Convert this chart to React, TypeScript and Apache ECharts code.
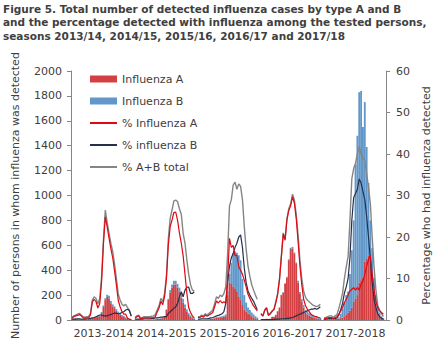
import React, { useEffect, useRef } from "react";
import * as echarts from "echarts";

const seasons = ["2013-2014", "2014-2015", "2015-2016", "2016-2017", "2017-2018"];

// Weekly number of persons with influenza A (week 40 -> week 20), one array per season
const casesA = [
  [5,8,10,10,8,6,5,5,6,8,10,15,20,22,25,30,55,105,160,185,175,135,110,95,75,55,40,30,25,15,10,6,3],
  [3,4,5,4,3,3,3,4,4,5,5,6,8,10,12,15,25,80,160,220,260,285,285,260,230,180,140,100,65,40,25,15,8],
  [3,3,4,4,5,5,6,8,10,15,20,20,22,22,25,30,200,300,295,270,255,225,190,160,120,85,65,50,40,30,22,15,10],
  [5,5,8,10,8,10,25,25,40,70,100,200,220,290,340,480,570,575,530,450,300,210,150,100,60,45,35,28,22,18,14,10,8],
  [5,5,6,8,8,6,8,10,12,15,20,30,45,60,75,100,150,170,200,300,320,340,470,490,520,480,370,200,100,50,25,15,8],
];

// Weekly number of persons with influenza B
const casesB = [
  [1,1,2,2,1,1,1,1,1,2,2,3,4,5,5,6,10,12,15,18,20,18,15,14,12,12,10,10,8,6,5,3,2],
  [0,0,1,0,0,1,1,1,1,1,1,1,2,2,3,3,4,5,10,20,25,30,30,30,30,35,30,25,20,15,12,8,5],
  [0,0,1,1,1,1,1,2,2,3,4,5,6,8,10,15,30,70,165,265,295,315,330,320,210,115,75,50,40,30,23,15,10],
  [0,0,0,0,0,0,1,1,1,2,2,3,4,5,8,8,10,12,12,12,15,15,18,20,20,20,20,20,18,15,15,12,10],
  [1,1,2,2,2,2,2,2,8,35,70,110,155,170,295,460,650,1080,1280,1530,1520,1210,1280,900,580,320,210,140,100,60,35,15,7],
];

// Percentage positive for influenza A
const pctA = [
  [0.4,0.8,1.0,1.1,1.3,1.0,0.6,0.4,0.5,0.5,1.2,4.3,5.0,4.4,2.9,3.9,9.2,18.3,24.8,22.5,19.8,17.2,15.0,11.8,8.4,4.7,3.2,2.0,1.4,1.4,0.4,0.2,0.1],
  [0.4,0.8,1.0,0.3,0.4,0.5,0.5,0.5,0.5,0.5,0.6,0.8,1.9,2.9,4.5,3.7,5.7,10.0,18.0,22.5,24.1,25.9,26.0,24.0,21.0,18.5,15.5,11.0,6.5,3.0,1.8,1.0,0.5],
  [0.6,0.6,0.9,0.7,1.2,0.9,1.2,1.5,1.8,3.2,4.6,4.1,4.7,4.1,4.4,4.0,10.0,19.7,17.5,18.0,15.5,15.6,12.8,12.0,11.0,9.6,8.0,6.2,5.2,4.2,3.4,2.8,2.2],
  [1.5,0.9,2.3,2.9,1.1,1.5,2.1,2.5,4.2,6.2,9.8,15.2,20.7,19.2,24.1,26.4,27.5,29.7,28.2,24.5,19.0,13.0,8.5,5.0,3.5,2.6,2.0,1.4,1.1,0.9,0.8,0.6,0.5],
  [0.3,0.4,0.5,0.6,0.6,0.3,0.6,0.8,1.4,2.2,3.0,4.2,5.0,6.0,7.0,7.4,7.8,7.2,7.8,7.2,8.6,9.4,11.0,13.0,14.5,15.5,11.0,7.5,4.5,3.0,2.2,1.8,1.4],
];

// Percentage positive for influenza B
const pctB = [
  [0.2,0.2,0.2,0.3,0.3,0.2,0.2,0.2,0.3,0.3,0.4,0.5,0.6,0.8,1.0,1.2,1.2,1.0,1.0,1.0,1.2,1.3,1.5,1.7,1.6,1.5,1.6,1.8,2.0,2.4,2.6,2.2,0.9],
  [0.2,0.2,0.2,0.2,0.2,0.3,0.3,0.3,0.3,0.4,0.4,0.5,0.5,0.6,0.7,0.7,0.8,0.8,1.6,2.0,2.4,2.8,3.2,4.0,5.6,6.8,5.6,7.2,7.9,7.9,6.4,6.4,6.8],
  [0.2,0.2,0.3,0.3,0.3,0.3,0.4,0.5,0.6,0.8,1.0,1.1,1.3,1.5,2.0,4.0,9.0,13.0,15.0,16.0,17.5,18.5,20.0,20.5,17.5,12.5,9.0,7.0,6.0,5.2,4.5,3.5,2.5],
  [0.1,0.1,0.1,0.1,0.1,0.1,0.1,0.1,0.2,0.2,0.2,0.3,0.3,0.3,0.4,0.4,0.5,0.6,0.8,1.0,1.2,1.4,1.6,1.8,2.0,2.2,2.4,2.6,2.6,2.8,2.6,2.8,3.2],
  [0.2,0.2,0.3,0.4,0.4,0.3,0.4,0.5,1.2,2.5,4.0,6.5,8.0,10.0,15.0,24.0,29.5,30.5,31.5,34.0,33.0,31.0,29.0,25.0,20.0,14.5,9.0,5.0,3.0,1.5,0.8,0.4,0.2],
];

// Percentage positive, A+B total
const pctTotal = [
  [0.6,1.0,1.2,1.4,1.6,1.2,0.8,0.6,0.8,0.8,1.6,4.8,5.6,5.2,3.9,5.1,10.4,19.3,26.5,23.5,21.0,18.5,16.5,13.5,10.0,6.2,4.8,3.8,3.4,3.8,3.0,2.4,1.0],
  [0.6,1.0,1.2,0.5,0.6,0.8,0.8,0.8,0.8,0.9,1.0,1.3,2.4,3.5,5.2,4.4,6.5,10.8,19.5,24.5,26.5,28.7,28.9,28.5,26.8,25.5,20.9,18.5,14.5,11.0,8.5,7.2,7.0],
  [0.8,0.8,1.2,1.0,1.5,1.2,1.6,2.0,2.4,4.0,5.6,5.2,6.0,5.6,6.4,8.0,16.0,27.5,29.0,32.5,33.2,31.5,32.8,32.2,29.0,22.5,17.0,13.0,10.5,8.5,7.2,6.0,5.0],
  [1.6,1.0,2.4,3.0,1.2,1.6,2.2,2.6,4.4,6.4,10.0,15.5,21.0,19.5,24.5,26.8,28.0,30.3,29.0,25.5,20.5,14.5,10.0,7.0,5.5,4.8,4.4,4.0,3.6,3.4,3.2,3.4,3.8],
  [0.5,0.6,0.8,1.0,1.0,0.6,1.0,1.3,2.8,4.5,6.4,10.0,12.8,15.3,24.0,34.0,36.5,37.8,40.0,41.8,40.0,39.0,38.5,35.3,32.0,28.0,20.0,12.8,7.2,3.5,2.4,1.6,0.8],
];

const leftTicks = { min: 0, max: 2000, interval: 200 };
const rightTicks = { min: 0, max: 60, interval: 10 };

const SLOTS = 34; // 33 weeks + 1 gap per season

function flatten(arrs: number[][]): (number | null)[] {
  const out: (number | null)[] = [];
  arrs.forEach((s) => {
    for (let i = 0; i < SLOTS; i++) out.push(i < s.length ? s[i] : null);
  });
  return out;
}

const FONT = "DejaVu Sans";
const TXT = "#404040";
const AX = "#868686";

export default function App() {
  const ref = useRef<HTMLDivElement>(null);
  useEffect(() => {
    document.body.style.margin = "0";
    if (!ref.current) return;
    const chart = echarts.init(ref.current, null, { renderer: "svg" });
    const categories: string[] = [];
    seasons.forEach((s) => {
      for (let i = 0; i < SLOTS; i++) categories.push(s + " w" + i);
    });
    const lineCommon = {
      type: "line",
      yAxisIndex: 1,
      symbol: "none",
      connectNulls: false,
    };
    chart.setOption({
      animation: false,
      textStyle: { fontFamily: FONT },
      title: {
        text:
          "Figure 5. Total number of detected influenza cases by type A and B\nand the percentage detected with influenza among the tested persons,\nseasons 2013/14, 2014/15, 2015/16, 2016/17 and 2017/18",
        left: 3,
        top: 2,
        padding: 0,
        textStyle: {
          fontFamily: FONT,
          fontSize: 10.5,
          fontWeight: "bold",
          color: TXT,
          lineHeight: 13.4,
        },
      },
      grid: { left: 71, right: 44, top: 71, bottom: 24 },
      legend: {
        orient: "vertical",
        left: 89,
        top: 72,
        itemWidth: 27,
        itemHeight: 7,
        itemGap: 8,
        padding: 0,
        textStyle: { fontFamily: FONT, fontSize: 11, color: TXT, lineHeight: 14 },
        data: [
          { name: "Influenza A", icon: "rect" },
          { name: "Influenza B", icon: "rect" },
          { name: "% Influenza A", itemStyle: { opacity: 0 } },
          { name: "% influenza B", itemStyle: { opacity: 0 } },
          { name: "% A+B total", itemStyle: { opacity: 0 } },
        ],
      },
      xAxis: {
        type: "category",
        data: categories,
        boundaryGap: true,
        axisLine: { lineStyle: { color: AX, width: 1 } },
        axisTick: {
          interval: (i: number) => i % SLOTS === 0,
          length: 5,
          lineStyle: { color: "#b0b0b0" },
        },
        axisLabel: {
          interval: 0,
          margin: 8,
          fontFamily: FONT,
          fontSize: 11,
          color: TXT,
          formatter: (_v: string, i: number) =>
            i % SLOTS === 17 ? seasons[Math.floor(i / SLOTS)] : "",
        },
      },
      yAxis: [
        {
          type: "value",
          ...leftTicks,
          position: "left",
          name: "Number of persons in whom influenza was detected",
          nameLocation: "middle",
          nameGap: 50,
          nameTextStyle: { fontFamily: FONT, fontSize: 11, color: TXT },
          axisLine: { show: true, lineStyle: { color: AX } },
          axisTick: { show: true, length: 4, lineStyle: { color: AX } },
          axisLabel: {
            fontFamily: FONT,
            fontSize: 11,
            color: TXT,
            margin: 9,
            formatter: (v: number) => String(v),
          },
          splitLine: { show: false },
        },
        {
          type: "value",
          ...rightTicks,
          position: "right",
          name: "Percentage who had influenza detected",
          nameLocation: "middle",
          nameGap: 30,
          nameTextStyle: { fontFamily: FONT, fontSize: 11, color: TXT },
          axisLine: { show: true, lineStyle: { color: AX } },
          axisTick: { show: true, length: 4, lineStyle: { color: AX } },
          axisLabel: {
            fontFamily: FONT,
            fontSize: 11,
            color: TXT,
            margin: 10,
            formatter: (v: number) => String(v),
          },
          splitLine: { show: false },
        },
      ],
      series: [
        {
          name: "Influenza A",
          type: "bar",
          stack: "cases",
          data: flatten(casesA),
          barCategoryGap: "0%",
          itemStyle: { color: "#d24043" },
          z: 1,
        },
        {
          name: "Influenza B",
          type: "bar",
          stack: "cases",
          data: flatten(casesB),
          barCategoryGap: "0%",
          itemStyle: { color: "#6297c9" },
          z: 1,
        },
        {
          ...lineCommon,
          name: "% Influenza A",
          data: flatten(pctA),
          lineStyle: { color: "#dd0a14", width: 1.2 },
          itemStyle: { color: "#dd0a14" },
          z: 5,
        },
        {
          ...lineCommon,
          name: "% influenza B",
          data: flatten(pctB),
          lineStyle: { color: "#25304d", width: 1.2 },
          itemStyle: { color: "#25304d" },
          z: 4,
        },
        {
          ...lineCommon,
          name: "% A+B total",
          data: flatten(pctTotal),
          lineStyle: { color: "#858585", width: 1.4 },
          itemStyle: { color: "#858585" },
          z: 3,
        },
      ],
    });
    return () => chart.dispose();
  }, []);
  return <div ref={ref} style={{ width: 440, height: 344 }} />;
}
